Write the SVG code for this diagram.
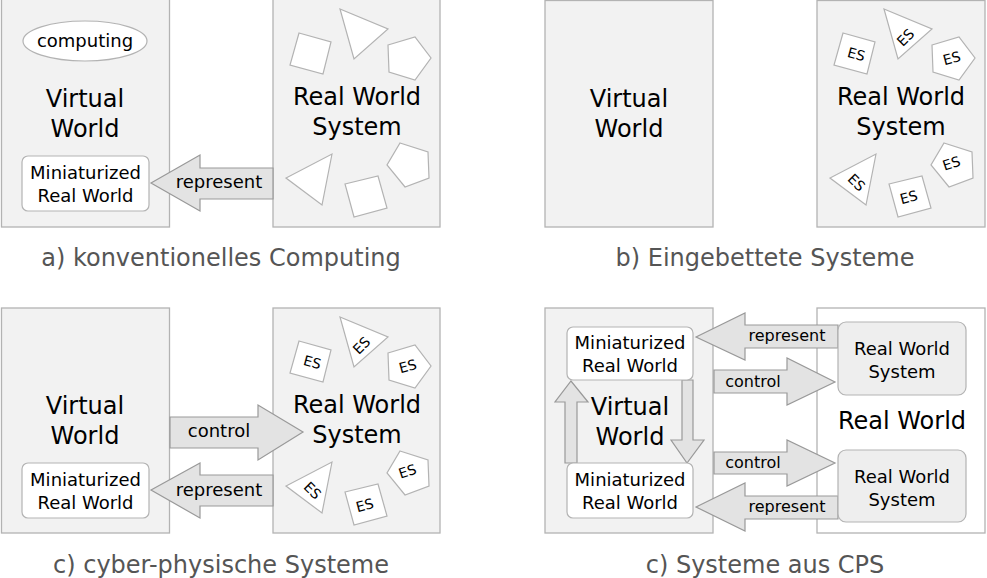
<svg xmlns="http://www.w3.org/2000/svg" width="987" height="578" viewBox="0 0 987 578">
<defs>
<style>
text{font-family:"DejaVu Sans","Liberation Sans",sans-serif;fill:#000;text-anchor:middle}
.box{fill:#f2f2f2;stroke:#b3b3b3;stroke-width:1.3}
.wbox{fill:#fff;stroke:#b3b3b3;stroke-width:1.3}
.mini{fill:#fff;stroke:#b3b3b3;stroke-width:1.2}
.rws{fill:#eeeeee;stroke:#b3b3b3;stroke-width:1.2}
.arr{fill:#e3e3e3;stroke:#999;stroke-width:1.2;stroke-linejoin:miter}
.shp{fill:#fff;stroke:#b3b3b3;stroke-width:1.2}
.big{font-size:24px}
.mid{font-size:18px}
.sm{font-size:16px}
.es{font-size:14px}
.cap{font-size:24px;fill:#555}
</style>
</defs>

<!-- Panel a -->
<g id="a-virtual"><rect class="box" x="1.5" y="-1" width="168" height="228"/>
<text class="big" x="85" y="107">Virtual</text><text class="big" x="85" y="137">World</text></g>
<g id="a-computing"><ellipse class="mini" cx="85" cy="41" rx="62" ry="20"/><text class="mid" x="85" y="47">computing</text></g>
<g id="a-mini"><rect class="mini" x="22" y="156" width="127" height="55" rx="6"/>
<text class="mid" x="85.5" y="179">Miniaturized</text><text class="mid" x="85.5" y="202">Real World</text></g>
<g id="a-real"><rect class="box" x="273" y="-1" width="167" height="228"/>
<polygon class="shp" points="299,33 331,42 323,74 290,65"/>
<polygon class="shp" points="340,9 388,29 354,59"/>
<polygon class="shp" points="388,45 415,37 431,58 415,80 389,72"/>
<polygon class="shp" points="332,154 322,205 286,178"/>
<polygon class="shp" points="400,143 428,152 429,178 405,187 387,165"/>
<polygon class="shp" points="345,184 378,176 387,208 354,217"/>
<text class="big" x="357" y="105">Real World</text><text class="big" x="357" y="135">System</text></g>

<!-- Panel b -->
<g id="b-virtual"><rect class="box" x="545" y="0.5" width="168" height="226.5"/>
<text class="big" x="629" y="107">Virtual</text><text class="big" x="629" y="137">World</text></g>
<g id="b-real"><rect class="box" x="817" y="0.5" width="168" height="226.5"/>
<g transform="translate(544,0)">
<polygon class="shp" points="299,33 331,42 323,74 290,65"/>
<polygon class="shp" points="340,9 388,29 354,59"/>
<polygon class="shp" points="388,45 415,37 431,58 415,80 389,72"/>
<polygon class="shp" points="332,154 322,205 286,178"/>
<polygon class="shp" points="400,143 428,152 429,178 405,187 387,165"/>
<polygon class="shp" points="345,184 378,176 387,208 354,217"/>
<text class="es" transform="translate(311,59) rotate(15)">ES</text>
<text class="es" transform="translate(365,41) rotate(-45)">ES</text>
<text class="es" transform="translate(409,63) rotate(-15)">ES</text>
<text class="es" transform="translate(309,186) rotate(45)">ES</text>
<text class="es" transform="translate(366,202) rotate(-15)">ES</text>
<text class="es" transform="translate(409,168) rotate(-18)">ES</text>
</g>
<text class="big" x="901" y="105">Real World</text><text class="big" x="901" y="135">System</text></g>

<!-- Panel c -->
<g id="c-virtual"><rect class="box" x="1.5" y="308" width="168" height="225"/>
<text class="big" x="85" y="414">Virtual</text><text class="big" x="85" y="444">World</text></g>
<g id="c-mini"><rect class="mini" x="22" y="463" width="127" height="55" rx="6"/>
<text class="mid" x="85.5" y="486">Miniaturized</text><text class="mid" x="85.5" y="509">Real World</text></g>
<g id="c-real"><rect class="box" x="273" y="308" width="167" height="225"/>
<g transform="translate(0,308)">
<polygon class="shp" points="299,33 331,42 323,74 290,65"/>
<polygon class="shp" points="340,9 388,29 354,59"/>
<polygon class="shp" points="388,45 415,37 431,58 415,80 389,72"/>
<polygon class="shp" points="332,154 322,205 286,178"/>
<polygon class="shp" points="400,143 428,152 429,178 405,187 387,165"/>
<polygon class="shp" points="345,184 378,176 387,208 354,217"/>
<text class="es" transform="translate(311,59) rotate(15)">ES</text>
<text class="es" transform="translate(365,41) rotate(-45)">ES</text>
<text class="es" transform="translate(409,63) rotate(-15)">ES</text>
<text class="es" transform="translate(309,186) rotate(45)">ES</text>
<text class="es" transform="translate(366,202) rotate(-15)">ES</text>
<text class="es" transform="translate(409,168) rotate(-18)">ES</text>
</g>
<text class="big" x="357" y="413">Real World</text><text class="big" x="357" y="443">System</text></g>

<!-- Panel d -->
<g id="d-virtual"><rect class="box" x="545" y="308" width="168" height="225"/>
<text class="big" x="630" y="415">Virtual</text><text class="big" x="630" y="445">World</text></g>
<g id="d-real"><rect class="wbox" x="817" y="308" width="168" height="225"/>
<text class="big" x="902" y="429">Real World</text></g>

<!-- connectors -->
<g id="connectors">
<polygon class="arr" points="151,183 200,155 200,168 273,168 273,199 200,199 200,211"/>
<text class="mid" x="219" y="188">represent</text>
<polygon class="arr" points="170,417 258,417 258,405 303,432 258,460 258,448 170,448"/>
<text class="mid" x="219" y="437">control</text>
<polygon class="arr" points="151,490 200,463 200,475 273,475 273,506 200,506 200,518"/>
<text class="mid" x="219" y="496">represent</text>

<polygon class="arr" points="565,463 565,402 555,402 571,381 588,402 577,402 577,463"/>
<polygon class="arr" points="682,380 693,380 693,440 704,440 687,463 671,440 682,440"/>
<polygon class="arr" points="696,337 745,313 745,325 838,325 838,348 745,348 745,360"/>
<text class="sm" x="787" y="341">represent</text>
<polygon class="arr" points="714,370 787,370 787,358 835,382 787,405 787,393 714,393"/>
<text class="sm" x="753" y="387">control</text>
<polygon class="arr" points="714,452 787,452 787,440 835,463 787,486 787,474 714,474"/>
<text class="sm" x="753" y="468">control</text>
<polygon class="arr" points="696,507 745,483 745,496 838,496 838,519 745,519 745,531"/>
<text class="sm" x="787" y="512">represent</text>
</g>

<g id="d-mini-top"><rect class="mini" x="567" y="327" width="126" height="53" rx="6"/>
<text class="mid" x="630" y="349">Miniaturized</text><text class="mid" x="630" y="372">Real World</text></g>
<g id="d-mini-bottom"><rect class="mini" x="567" y="463" width="126" height="55" rx="6"/>
<text class="mid" x="630" y="486">Miniaturized</text><text class="mid" x="630" y="509">Real World</text></g>
<g id="d-rws-top"><rect class="rws" x="838" y="322" width="128" height="73" rx="8"/>
<text class="mid" x="902" y="355">Real World</text><text class="mid" x="902" y="378">System</text></g>
<g id="d-rws-bottom"><rect class="rws" x="838" y="450" width="128" height="72" rx="8"/>
<text class="mid" x="902" y="483">Real World</text><text class="mid" x="902" y="506">System</text></g>

<!-- captions -->
<g id="captions">
<text class="cap" x="221" y="266">a) konventionelles Computing</text>
<text class="cap" x="765" y="266">b) Eingebettete Systeme</text>
<text class="cap" x="221" y="573">c) cyber-physische Systeme</text>
<text class="cap" x="765" y="573">c) Systeme aus CPS</text>
</g>
</svg>
